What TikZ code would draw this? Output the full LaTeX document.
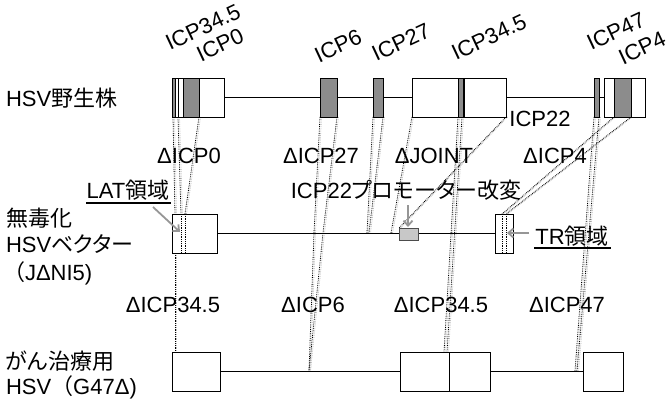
\documentclass[tikz,border=0pt]{standalone}
\usepackage{fontspec}
\setmainfont{Liberation Sans}
\newfontfamily\jp[RawFeature=+palt]{Noto Sans CJK JP}
\newfontfamily\jpfw{Noto Sans CJK JP}
\usetikzlibrary{arrows.meta}
\definecolor{genegray}{RGB}{140,140,140}
\definecolor{promgray}{RGB}{200,200,200}
\definecolor{arrgray}{RGB}{150,150,150}
\begin{document}
\begin{tikzpicture}[x=1pt,y=1pt,
  every node/.style={font=\fontsize{22}{25}\selectfont, inner sep=0pt, outer sep=0pt},
  bx/.style={draw=black, line width=0.8pt, fill=white},
  gene/.style={draw=black, line width=0.6pt, fill=genegray},
  bb/.style={line width=0.8pt},
  conn/.style={densely dotted, line width=0.8pt,
    preaction={draw=gray!50, densely dotted, line width=0.8pt, transform canvas={xshift=1.5pt}}},
  inn/.style={densely dotted, line width=0.8pt},
  garrow/.style={draw=arrgray, line width=1.8pt, -{Straight Barb[length=5pt,width=9pt]}},
  tiltlbl/.style={rotate=25},
  uline/.style={line width=1.4pt}
]
\useasboundingbox (0,0) rectangle (667,-399);

% ---------- coordinates for connectors ----------
\coordinate (a1) at (173,-117); \coordinate (a1m) at (175,-214);
\coordinate (a1b) at (175,-253); \coordinate (a1z) at (175,-352);
\coordinate (a2) at (178,-117); \coordinate (a2m) at (181,-214);
\coordinate (a3) at (199,-117); \coordinate (a3m) at (185,-214);
\coordinate (a2n) at (181,-253); \coordinate (a3n) at (185,-253);
\coordinate (s1) at (320,-117); \coordinate (s1m) at (314,-233);
\coordinate (s2) at (337,-117); \coordinate (s2m) at (323,-233);
\coordinate (s6z) at (309,-371);
\coordinate (r1) at (373,-117); \coordinate (r1m) at (367,-233);
\coordinate (r2) at (383,-117); \coordinate (r2m) at (369,-233);
\coordinate (j1) at (412,-117); \coordinate (j1m) at (391,-233);
\coordinate (j2) at (506,-117); \coordinate (j2m) at (399,-228);
\coordinate (k1) at (458,-117); \coordinate (k1z) at (444,-352);
\coordinate (k2) at (462,-117); \coordinate (k2z) at (447,-352);
\coordinate (p1) at (594,-117); \coordinate (p1z) at (575,-371);
\coordinate (p2) at (599,-117); \coordinate (p2z) at (577,-371);
\coordinate (f1) at (614,-117); \coordinate (f1m) at (502,-214);
\coordinate (f2) at (631,-117); \coordinate (f2m) at (506,-214);
\coordinate (f1n) at (502,-253); \coordinate (f2n) at (506,-253);

% ---------- connectors ----------
\draw[conn] (a1) -- (a1m);
\draw[conn] (a1b) -- (a1z);
\draw[conn] (a2) -- (a2m);
\draw[conn] (a3) -- (a3m);
\draw[conn] (s1) -- (s1m) -- (s6z);
\draw[conn] (s2) -- (s2m) -- (s6z);
\draw[conn] (r1) -- (r1m);
\draw[conn] (r2) -- (r2m);
\draw[conn] (j1) -- (j1m);
\draw[conn] (j2) -- (j2m);
\draw[conn] (k1) -- (k1z);
\draw[conn] (k2) -- (k2z);
\draw[conn] (p1) -- (p1z);
\draw[conn] (p2) -- (p2z);
\draw[conn] (f1) -- (f1m);
\draw[conn] (f2) -- (f2m);

% ---------- top genome ----------
\draw[bb] (224,-97) -- (604,-97);
\node[bx, minimum width=52pt, minimum height=39pt] (A) at (198,-97.5) {};
\node[gene, minimum width=3.5pt, minimum height=39pt] (g345a) at (174,-97.5) {};
\draw[bb] (178,-78) -- (178,-117);
\node[gene, minimum width=16pt, minimum height=39pt] (g0) at (191,-97.5) {};
\node[gene, minimum width=17pt, minimum height=39pt] (g6) at (328.5,-97.5) {};
\node[gene, minimum width=10pt, minimum height=39pt] (g27) at (378,-97.5) {};
\node[bx, minimum width=94pt, minimum height=39pt] (B) at (459,-97.5) {};
\node[gene, minimum width=5pt, minimum height=39pt] (g345b) at (460.5,-97.5) {};
\draw[bb] (B.north) ++(5,0) -- ++(0,-39);
\node[gene, minimum width=5pt, minimum height=39pt] (g47) at (596.5,-97.5) {};
\node[bx, minimum width=41pt, minimum height=39pt] (C) at (624.5,-97.5) {};
\node[gene, minimum width=17pt, minimum height=39pt] (g4) at (622.5,-97.5) {};

% ---------- middle genome ----------
\draw[bb] (217,-233) -- (495,-233);
\node[bx, minimum width=45pt, minimum height=39pt] (Am) at (194.5,-233.5) {};
\node[draw=black!70, line width=0.7pt, fill=promgray, minimum width=19pt, minimum height=12pt] (prombox) at (408.5,-234) {};
\node[bx, minimum width=18pt, minimum height=39pt] (Cm) at (504,-233.5) {};
\draw[inn] (a2m) -- (a2n);
\draw[inn] (a3m) -- (a3n);
\draw[inn] (f1m) -- (f1n);
\draw[inn] (f2m) -- (f2n);

% ---------- bottom genome ----------
\draw[bb] (220,-371.5) -- (583,-371.5);
\node[bx, minimum width=48pt, minimum height=39pt] (Ab) at (196,-371.5) {};
\node[bx, minimum width=49pt, minimum height=39pt] (Bb1) at (424.5,-371.5) {};
\node[bx, minimum width=41pt, minimum height=39pt] (Bb2) at (469.5,-371.5) {};
\node[bx, minimum width=40pt, minimum height=39pt] (Cb) at (603,-371.5) {};

% ---------- top labels ----------
\node[tiltlbl] (l345a) at (203,-27) {ICP34.5};
\node[tiltlbl] (l0) at (220,-45) {ICP0};
\node[tiltlbl] (l6) at (338,-46) {ICP6};
\node[tiltlbl] (l27) at (401,-42) {ICP27};
\node[tiltlbl] (l345b) at (489,-37) {ICP34.5};
\node[tiltlbl] (l47) at (616,-31) {ICP47};
\node[tiltlbl] (l4) at (642,-48) {ICP4};
\node (l22) at (540,-119) {ICP22};

% ---------- left labels ----------
\node[anchor=west] (n1) at (6,-98) {HSV{\jp 野生株}};
\node[anchor=west] (n2) at (6,-218) {\jp 無毒化};
\node[anchor=west] (n3) at (6,-244) {HSV{\jp ベクター}};
\node[anchor=west] (n4) at (3,-273) {{\jpfw （}JΔNI5)};
\node[anchor=west] (n5) at (6,-361) {\jp がん治療用};
\node[anchor=west] (n6) at (6,-387) {HSV{\jpfw （}G47Δ)};

% ---------- deletion labels ----------
\node (d0) at (189,-156) {ΔICP0};
\node (d27) at (321,-156) {ΔICP27};
\node (dj) at (434,-156) {ΔJOINT};
\node (d4) at (555,-156) {ΔICP4};
\node (e1) at (173,-305) {ΔICP34.5};
\node (e2) at (313,-305) {ΔICP6};
\node (e3) at (441,-305) {ΔICP34.5};
\node (e4) at (567,-305) {ΔICP47};

% ---------- annotations ----------
\node (lat) at (128,-190) {LAT{\jp 領域}};
\draw[uline] (86,-203) -- (171,-203);
\node (prom) at (406,-190) {ICP22{\jp プロモーター改変}};
\node (tr) at (572,-236) {TR{\jp 領域}};
\draw[uline] (534,-248) -- (611,-248);

\coordinate (latA) at (153,-207); \coordinate (latB) at (180,-232);
\coordinate (proA) at (408,-205); \coordinate (proB) at (408,-227);
\coordinate (trA) at (529,-233); \coordinate (trB) at (507,-233);
\draw[garrow] (latA) -- (latB);
\draw[garrow] (proA) -- (proB);
\draw[garrow] (trA) -- (trB);
\end{tikzpicture}
\end{document}
